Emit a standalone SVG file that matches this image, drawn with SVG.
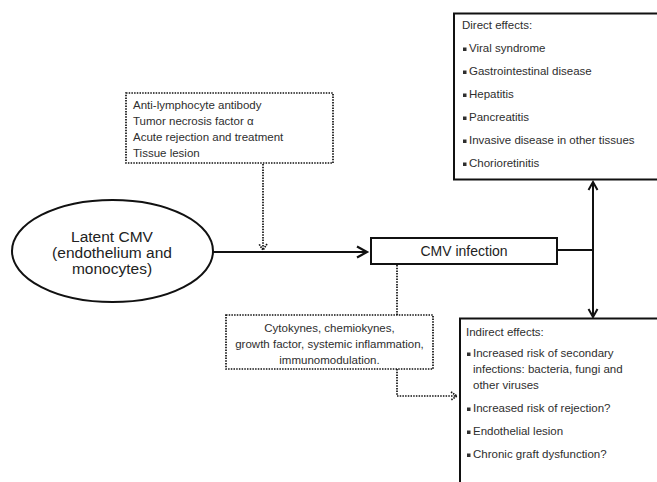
<svg xmlns="http://www.w3.org/2000/svg" width="657" height="482" viewBox="0 0 657 482">
<style>
text{font-family:"Liberation Sans",Arial,sans-serif;font-size:11.5px;fill:#2e2e2e}
.big{font-size:15.5px;fill:#222}
.mid{font-size:14px;fill:#222}
.solid{fill:#fff;stroke:#111;stroke-width:2}
.dot{fill:none;stroke:#111;stroke-width:1.7;stroke-dasharray:1.5 1.2}
.ln{fill:none;stroke:#111;stroke-width:2}
.b{fill:#2e2e2e}
</style>
<defs>
<marker id="ah" markerUnits="userSpaceOnUse" markerWidth="14" markerHeight="14" refX="11" refY="7" orient="auto">
<path d="M1,1.5 L11,7 L1,12.5" fill="none" stroke="#111" stroke-width="2.2"/>
</marker>
<marker id="ah2" markerUnits="userSpaceOnUse" markerWidth="12" markerHeight="12" refX="9" refY="6" orient="auto">
<path d="M1,1.5 L9,6 L1,10.5" fill="none" stroke="#111" stroke-width="2"/>
</marker>
<marker id="dh" markerUnits="userSpaceOnUse" markerWidth="10" markerHeight="10" refX="7" refY="5" orient="auto">
<path d="M1,1 L7,5 L1,9" fill="none" stroke="#111" stroke-width="1.7" stroke-dasharray="1.5 1"/>
</marker>
</defs>

<g id="connectors">
<line class="ln" x1="213" y1="252" x2="367" y2="252" marker-end="url(#ah)"/>
<line class="dot" x1="263" y1="164" x2="263" y2="250" marker-end="url(#dh)"/>
<line class="ln" x1="557" y1="250" x2="593" y2="250"/>
<line class="ln" x1="593" y1="250" x2="593" y2="182" marker-end="url(#ah2)"/>
<line class="ln" x1="593" y1="250" x2="593" y2="317" marker-end="url(#ah2)"/>
<line class="dot" x1="397" y1="265" x2="397" y2="315"/>
<polyline class="dot" points="397,369 397,396 457,396" marker-end="url(#dh)"/>
</g>

<g id="latent">
<ellipse class="solid" cx="112.5" cy="251" rx="100.5" ry="51"/>
<text class="big" x="112" y="242" text-anchor="middle">Latent CMV</text>
<text class="big" x="112" y="258" text-anchor="middle">(endothelium and</text>
<text class="big" x="112" y="274" text-anchor="middle">monocytes)</text>
</g>

<g id="factors">
<rect class="dot" x="126" y="93" width="207" height="70" fill="#fff"/>
<text x="133" y="109">Anti-lymphocyte antibody</text>
<text x="133" y="125">Tumor necrosis factor α</text>
<text x="133" y="141">Acute rejection and treatment</text>
<text x="133" y="157">Tissue lesion</text>
</g>

<g id="cmv">
<rect class="solid" x="371" y="238" width="186" height="26"/>
<text class="mid" x="464" y="256" text-anchor="middle">CMV infection</text>
</g>

<g id="mediators">
<rect class="dot" x="226" y="315" width="207" height="54"/>
<text x="329.5" y="332" text-anchor="middle">Cytokynes, chemiokynes,</text>
<text x="329.5" y="348" text-anchor="middle">growth factor, systemic inflammation,</text>
<text x="329.5" y="364" text-anchor="middle">immunomodulation.</text>
</g>

<g id="direct">
<rect class="solid" x="454" y="13.5" width="230" height="166"/>
<text x="462" y="29">Direct effects:</text>
<rect class="b" x="463" y="47.5" width="3.5" height="3.5"/><text x="469" y="52">Viral syndrome</text>
<rect class="b" x="463" y="70.5" width="3.5" height="3.5"/><text x="469" y="75">Gastrointestinal disease</text>
<rect class="b" x="463" y="93.5" width="3.5" height="3.5"/><text x="469" y="98">Hepatitis</text>
<rect class="b" x="463" y="116.5" width="3.5" height="3.5"/><text x="469" y="121">Pancreatitis</text>
<rect class="b" x="463" y="139.5" width="3.5" height="3.5"/><text x="469" y="144">Invasive disease in other tissues</text>
<rect class="b" x="463" y="162.5" width="3.5" height="3.5"/><text x="469" y="167">Chorioretinitis</text>
</g>

<g id="indirect">
<rect class="solid" x="460" y="318.5" width="230" height="200"/>
<text x="466" y="336">Indirect effects:</text>
<rect class="b" x="467" y="352.5" width="3.5" height="3.5"/><text x="473" y="357">Increased risk of secondary</text>
<text x="473" y="373">infections: bacteria, fungi and</text>
<text x="473" y="389">other viruses</text>
<rect class="b" x="467" y="407.5" width="3.5" height="3.5"/><text x="473" y="412">Increased risk of rejection?</text>
<rect class="b" x="467" y="430.5" width="3.5" height="3.5"/><text x="473" y="435">Endothelial lesion</text>
<rect class="b" x="467" y="453.5" width="3.5" height="3.5"/><text x="473" y="458">Chronic graft dysfunction?</text>
</g>
</svg>
